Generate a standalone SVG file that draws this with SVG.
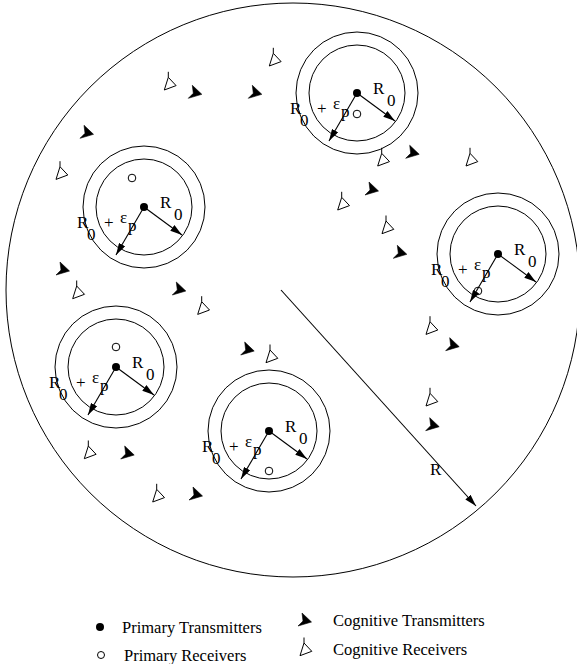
<svg xmlns="http://www.w3.org/2000/svg" xmlns:xlink="http://www.w3.org/1999/xlink" width="577" height="664" viewBox="0 0 577 664">
<style>
.ln{stroke:#000;stroke-width:1;fill:none}
.ar{stroke:#000;stroke-width:1.1;fill:none;marker-end:url(#ah)}
.dot{fill:#000}
.rx{fill:#fff;stroke:#000;stroke-width:1}
.lb{font-family:"Liberation Serif","Times New Roman",serif;font-size:17px;fill:#000}
.lg{font-family:"Liberation Serif","Times New Roman",serif;font-size:16.5px;fill:#000}
.ctf{fill:#000;stroke:#000;stroke-width:0.6;stroke-linejoin:miter}
.cro{fill:#fff;stroke:#000;stroke-width:1;stroke-linejoin:miter}
</style>
<defs>
<marker id="ah" markerWidth="12" markerHeight="7" refX="12" refY="3.5" orient="auto" markerUnits="userSpaceOnUse">
<path d="M0,0 L12,3.5 L0,7 Z" fill="#000"/>
</marker>
<path id="ct" class="ctf" d="M0,0 L-1,-8 L8.5,1 L-5,5 Z"/>
<path id="cr" class="cro" d="M0,-5.5 L0,0 M0,0 L7.8,8.3 L-4,12.7 Z"/>
</defs>
<rect width="577" height="664" fill="#fff"/>

<g id="region">
<circle class="ln" cx="293" cy="290" r="287"/>
</g>

<g id="connectors">
<line class="ar" x1="281" y1="290" x2="476" y2="506"/>
<text class="lb" x="430" y="475">R</text>
</g>

<g id="cell1" transform="translate(357,93)">
<circle class="ln" r="61"/><circle class="ln" r="48"/>
<line class="ar" x1="0" y1="0" x2="38" y2="28"/>
<line class="ar" x1="0" y1="0" x2="-28" y2="48"/>
<circle class="dot" r="4"/>
<circle class="rx" cx="0" cy="21" r="3.8"/>
<text class="lb" x="16" y="1">R</text><text class="lb" x="30" y="13">0</text>
<text class="lb" x="-67" y="21">R</text><text class="lb" x="-57" y="33">0</text>
<text class="lb" x="-40" y="21">+</text><text class="lb" x="-24" y="16">ε</text><text class="lb" x="-16" y="24">p</text>
</g>

<g id="cell2" transform="translate(144,207)">
<circle class="ln" r="61"/><circle class="ln" r="48"/>
<line class="ar" x1="0" y1="0" x2="38" y2="28"/>
<line class="ar" x1="0" y1="0" x2="-28" y2="48"/>
<circle class="dot" r="4"/>
<circle class="rx" cx="-12" cy="-29" r="3.8"/>
<text class="lb" x="16" y="1">R</text><text class="lb" x="30" y="13">0</text>
<text class="lb" x="-67" y="21">R</text><text class="lb" x="-57" y="33">0</text>
<text class="lb" x="-40" y="21">+</text><text class="lb" x="-24" y="16">ε</text><text class="lb" x="-16" y="24">p</text>
</g>

<g id="cell3" transform="translate(498,254)">
<circle class="ln" r="61"/><circle class="ln" r="48"/>
<line class="ar" x1="0" y1="0" x2="38" y2="28"/>
<line class="ar" x1="0" y1="0" x2="-28" y2="48"/>
<circle class="dot" r="4"/>
<circle class="rx" cx="-20" cy="37" r="3.8" style="fill:none"/>
<text class="lb" x="16" y="1">R</text><text class="lb" x="30" y="13">0</text>
<text class="lb" x="-67" y="21">R</text><text class="lb" x="-57" y="33">0</text>
<text class="lb" x="-40" y="21">+</text><text class="lb" x="-24" y="16">ε</text><text class="lb" x="-16" y="24">p</text>
</g>

<g id="cell4" transform="translate(116,367)">
<circle class="ln" r="61"/><circle class="ln" r="48"/>
<line class="ar" x1="0" y1="0" x2="38" y2="28"/>
<line class="ar" x1="0" y1="0" x2="-28" y2="48"/>
<circle class="dot" r="4"/>
<circle class="rx" cx="0" cy="-20" r="3.8"/>
<text class="lb" x="16" y="1">R</text><text class="lb" x="30" y="13">0</text>
<text class="lb" x="-67" y="21">R</text><text class="lb" x="-57" y="33">0</text>
<text class="lb" x="-40" y="21">+</text><text class="lb" x="-24" y="16">ε</text><text class="lb" x="-16" y="24">p</text>
</g>

<g id="cell5" transform="translate(269,431)">
<circle class="ln" r="61"/><circle class="ln" r="48"/>
<line class="ar" x1="0" y1="0" x2="38" y2="28"/>
<line class="ar" x1="0" y1="0" x2="-28" y2="48"/>
<circle class="dot" r="4"/>
<circle class="rx" cx="0" cy="40" r="3.8"/>
<text class="lb" x="16" y="1">R</text><text class="lb" x="30" y="13">0</text>
<text class="lb" x="-67" y="21">R</text><text class="lb" x="-57" y="33">0</text>
<text class="lb" x="-40" y="21">+</text><text class="lb" x="-24" y="16">ε</text><text class="lb" x="-16" y="24">p</text>
</g>

<g id="cognitive-transmitters">
<use id="ct1" xlink:href="#ct" href="#ct" x="193.3" y="93.3"/>
<use id="ct2" xlink:href="#ct" href="#ct" x="253.3" y="93.3"/>
<use id="ct3" xlink:href="#ct" href="#ct" x="85" y="133.3"/>
<use id="ct4" xlink:href="#ct" href="#ct" x="410.7" y="153.3"/>
<use id="ct5" xlink:href="#ct" href="#ct" x="370" y="190"/>
<use id="ct6" xlink:href="#ct" href="#ct" x="398.3" y="253.3"/>
<use id="ct7" xlink:href="#ct" href="#ct" x="61" y="270"/>
<use id="ct8" xlink:href="#ct" href="#ct" x="177.3" y="290"/>
<use id="ct9" xlink:href="#ct" href="#ct" x="245.7" y="350"/>
<use id="ct10" xlink:href="#ct" href="#ct" x="450.7" y="345.7"/>
<use id="ct11" xlink:href="#ct" href="#ct" x="430.7" y="425.7"/>
<use id="ct12" xlink:href="#ct" href="#ct" x="125.7" y="454"/>
<use id="ct13" xlink:href="#ct" href="#ct" x="194" y="495"/>
</g>

<g id="cognitive-receivers">
<use id="cr1" xlink:href="#cr" href="#cr" x="168.3" y="77.3"/>
<use id="cr2" xlink:href="#cr" href="#cr" x="60" y="166.7"/>
<use id="cr3" xlink:href="#cr" href="#cr" x="273.3" y="53.3"/>
<use id="cr4" xlink:href="#cr" href="#cr" x="381.7" y="153.3"/>
<use id="cr5" xlink:href="#cr" href="#cr" x="470" y="153.3"/>
<use id="cr6" xlink:href="#cr" href="#cr" x="341.7" y="197.3"/>
<use id="cr7" xlink:href="#cr" href="#cr" x="386" y="221"/>
<use id="cr8" xlink:href="#cr" href="#cr" x="76.7" y="286"/>
<use id="cr9" xlink:href="#cr" href="#cr" x="201.7" y="301.7"/>
<use id="cr10" xlink:href="#cr" href="#cr" x="270" y="350"/>
<use id="cr11" xlink:href="#cr" href="#cr" x="430" y="321.7"/>
<use id="cr12" xlink:href="#cr" href="#cr" x="430" y="393.3"/>
<use id="cr13" xlink:href="#cr" href="#cr" x="88.3" y="446"/>
<use id="cr14" xlink:href="#cr" href="#cr" x="156.7" y="489.3"/>
</g>

<g id="legend">
<circle class="dot" cx="100" cy="627" r="4"/>
<text class="lg" x="122" y="633">Primary Transmitters</text>
<circle class="rx" cx="101" cy="655" r="3.5"/>
<text class="lg" x="124" y="661">Primary Receivers</text>
<use xlink:href="#ct" href="#ct" x="303" y="621"/>
<text class="lg" x="333" y="626">Cognitive Transmitters</text>
<use xlink:href="#cr" href="#cr" x="304" y="643"/>
<text class="lg" x="333" y="655">Cognitive Receivers</text>
</g>
</svg>
